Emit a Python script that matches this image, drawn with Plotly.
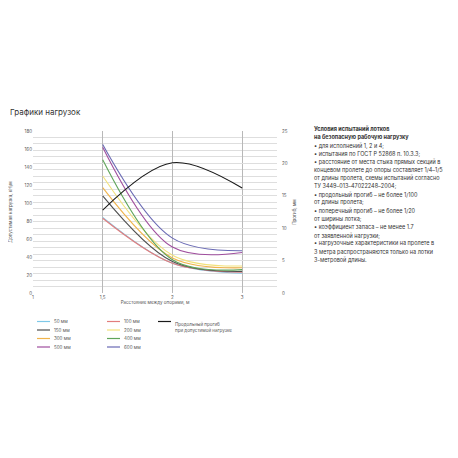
import plotly.graph_objects as go

# ---- data ----
x_ticks = ['1', '1,5', '2', '3']
spans = ['1,5', '2', '3']
series_names = ['50 мм', '100 мм', '150 мм', '200 мм', '300 мм', '400 мм', '500 мм', '600 мм']
series_colors = ['#7ec8e8', '#e27d7d', '#4f4f4f', '#f2e27c', '#f0b44c', '#5fa55a', '#a04f9e', '#6a6ab4']
load_50 = [84, 33, 22]
load_100 = [83, 33, 23]
load_150 = [108, 35, 24]
load_200 = [130, 42, 30]
load_300 = [117, 39, 28]
load_400 = [148, 37, 26]
load_500 = [162, 51, 45]
load_600 = [165, 61, 47]
loads = [load_50, load_100, load_150, load_200, load_300, load_400, load_500, load_600]
deflection = [12.8, 20.1, 16.2]
deflection_name = 'Продольный прогиб<br>при допустимой нагрузке'

notes = [
    '<b>Условия испытаний лотков</b>',
    '<b>на безопасную рабочую нагрузку</b>',
    '• для исполнений 1, 2 и 4;',
    '• испытания по ГОСТ Р 52868 п. 10.3.3;',
    '• расстояние от места стыка прямых секций в',
    'концевом пролете до опоры составляет 1/4–1/5',
    'от длины пролета, схемы испытаний согласно',
    'ТУ 3449–013–47022248–2004;',
    '• продольный прогиб – не более 1/100',
    'от длины пролета;',
    '• поперечный прогиб – не более 1/20',
    'от ширины лотка;',
    '• коэффициент запаса – не менее 1.7',
    'от заявленной нагрузки;',
    '• нагрузочные характеристики на пролете в',
    '3 метра распространяются только на лотки',
    '3-метровой длины.',
]

FONT = 'Inter, Roboto, Arial, sans-serif'
OFF = 8  # page body margin
W = H = 450
L, R, T, B = 33 - OFF, 181, 131 - OFF, 165
pw, ph = W - L - R, H - T - B

def px(xs):
    return (xs - OFF - L) / pw

def py(ys):
    return (H - B - (ys - OFF)) / ph

fig = go.Figure()
for name, color, vals in zip(series_names, series_colors, loads):
    fig.add_trace(go.Scatter(x=spans, y=vals, name=name, mode='lines',
                             line=dict(color=color, width=1.1, shape='spline'),
                             showlegend=False, yaxis='y'))
fig.add_trace(go.Scatter(x=spans, y=deflection, name='Продольный прогиб', mode='lines',
                         line=dict(color='#1a1a1a', width=1.1, shape='spline'),
                         showlegend=False, yaxis='y2'))

shapes = []
annotations = []
# manual legend
col_x = [37, 107]
row_y = [321.5, 330, 338.5, 347]
for i, (name, color) in enumerate(zip(series_names, series_colors)):
    c, r = i % 2, i // 2
    x0 = col_x[c]
    yy = row_y[r]
    shapes.append(dict(type='line', xref='paper', yref='paper',
                       x0=px(x0), x1=px(x0 + 13), y0=py(yy), y1=py(yy),
                       line=dict(color=color, width=1.2)))
    annotations.append(dict(x=px(x0 + 14.5), y=py(yy), xref='paper', yref='paper',
                            text=name, showarrow=False, xanchor='left', yanchor='middle',
                            font=dict(size=4.5, color='#555', family=FONT)))
shapes.append(dict(type='line', xref='paper', yref='paper',
                   x0=px(158), x1=px(171), y0=py(321.5), y1=py(321.5),
                   line=dict(color='#1a1a1a', width=1.2)))
annotations.append(dict(x=px(172.5), y=py(318.5), xref='paper', yref='paper',
                        text=deflection_name, showarrow=False, xanchor='left', yanchor='top',
                        align='left', font=dict(size=4.5, color='#555', family=FONT)))

# title
annotations.append(dict(x=px(8), y=py(112), xref='paper', yref='paper',
                        text='Графики нагрузок', showarrow=False, xanchor='left', yanchor='middle',
                        font=dict(size=8, color='#333', family=FONT)))
# notes block, one line per annotation
for i, line in enumerate(notes):
    annotations.append(dict(x=px(312), y=py(129 + i * 8.2), xref='paper', yref='paper',
                            text=line, showarrow=False, xanchor='left', yanchor='middle',
                            align='left', font=dict(size=5.5, color='#333', family=FONT)))

fig.update_layout(
    width=W, height=H,
    margin=dict(l=L, r=R, t=T, b=B, pad=0, autoexpand=False),
    paper_bgcolor='white', plot_bgcolor='white',
    showlegend=False,
    font=dict(family=FONT, size=4.5, color='#555'),
    xaxis=dict(type='category', categoryorder='array', categoryarray=x_ticks,
               tickvals=x_ticks, ticktext=x_ticks, range=[0, 3.5], automargin=False,
               showgrid=True, gridcolor='#b8b8b8', gridwidth=0.8, zeroline=False,
               showline=False, ticks='', tickfont=dict(size=4.5, color='#555'),
               title=dict(text='Расстояние между опорами, м', font=dict(size=4.5, color='#555'), standoff=2)),
    yaxis=dict(range=[0, 180], dtick=20, showgrid=False, zeroline=False, showline=False,
               ticks='', tickfont=dict(size=4.5, color='#555'), automargin=False,
               title=dict(text='Допустимая нагрузка, кН/м', font=dict(size=4.5, color='#555'), standoff=14)),
    yaxis2=dict(range=[0, 25], dtick=5, overlaying='y', side='right', showgrid=True,
                gridcolor='#dedede', gridwidth=0.8, zeroline=False, showline=False, ticks='',
                minor=dict(dtick=1, showgrid=True, gridcolor='#dedede', gridwidth=0.8),
                tickfont=dict(size=4.5, color='#555'), ticklabelstandoff=4, automargin=False,
                title=dict(text='Прогиб, мм', font=dict(size=4.5, color='#555'), standoff=6)),
    shapes=shapes,
    annotations=annotations,
)

fig.write_html('out.html')
